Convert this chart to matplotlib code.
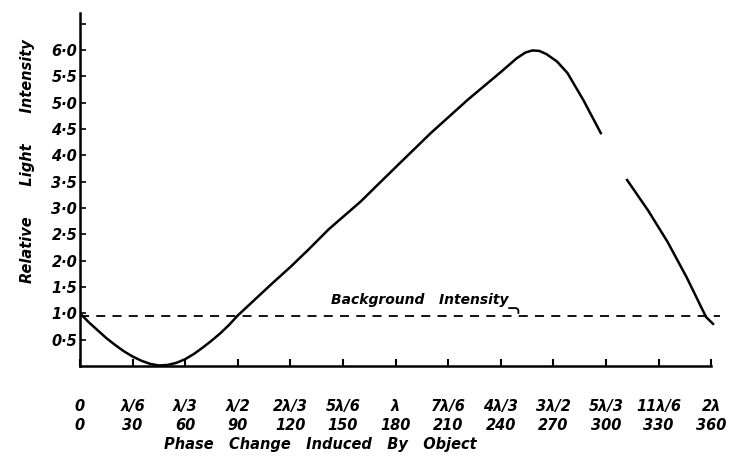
import numpy as np
from matplotlib import pyplot as plt

# phase (degrees) and relative light intensity
phase = [0, 5, 10, 15, 20, 25, 30, 35, 40, 45, 50, 55, 60, 65, 70, 75, 80,
         85, 90, 100, 110, 120, 130, 142, 160, 171, 183, 200, 221, 240, 249,
         254, 258, 262, 266, 272, 278, 287, 297,
         np.nan,
         312, 324, 335, 346, 357, 361]
intensity = [1.0, 0.83, 0.68, 0.53, 0.40, 0.28, 0.18, 0.10, 0.04, 0.01, 0.02,
             0.06, 0.13, 0.23, 0.35, 0.48, 0.62, 0.78, 0.96, 1.27, 1.58,
             1.88, 2.2, 2.6, 3.12, 3.48, 3.87, 4.42, 5.05, 5.58, 5.84, 5.95,
             5.99, 5.98, 5.92, 5.78, 5.56, 5.05, 4.42,
             np.nan,
             3.53, 2.95, 2.36, 1.68, 0.93, 0.80]
background = 0.95

xticks = [0, 30, 60, 90, 120, 150, 180, 210, 240, 270, 300, 330, 360]
lambda_labels = ["0", "λ/6", "λ/3", "λ/2", "2λ/3", "5λ/6", "λ", "7λ/6",
                 "4λ/3", "3λ/2", "5λ/3", "11λ/6", "2λ"]
yticks = [0.5, 1.0, 1.5, 2.0, 2.5, 3.0, 3.5, 4.0, 4.5, 5.0, 5.5, 6.0, 6.5]
ytick_labels = ["0·5", "1·0", "1·5", "2·0", "2·5", "3·0", "3·5", "4·0",
                "4·5", "5·0", "5·5", "6·0", ""]

plt.rcParams['font.family'] = 'DejaVu Sans'
font = dict(fontweight='bold', style='italic', fontsize=10.5)

fig = plt.figure(figsize=(7.34, 4.63), dpi=100)
ax = fig.add_axes([0.109, 0.2095, 0.872, 0.7624])

ax.plot(phase, intensity, color='black', lw=1.8)
ax.axhline(background, color='black', lw=1.3, ls=(0, (5, 4)))

ax.text(194, 1.25, "Background   Intensity", ha='center', va='center',
        fontweight='bold', style='italic', fontsize=10)
ax.annotate('', xy=(250, background), xytext=(243, 1.1),
            arrowprops=dict(arrowstyle='-', color='black', lw=1.3,
                            connectionstyle='angle,angleA=0,angleB=90,rad=3'))

ax.set_xlim(0, 365)
ax.set_ylim(0, 6.7)
ax.spines['top'].set_visible(False)
ax.spines['right'].set_visible(False)
ax.spines['bottom'].set_bounds(0, 360)
ax.spines['left'].set_linewidth(1.8)
ax.spines['bottom'].set_linewidth(1.8)

ax.set_xticks(xticks)
ax.set_xticklabels([f"{a}\n{b}" for a, b in zip(lambda_labels, xticks)],
                   linespacing=1.3, **font)
ax.set_yticks(yticks)
ax.set_yticklabels(ytick_labels, **font)
ax.tick_params(axis='x', direction='in', length=5, width=1.5, pad=24)
ax.tick_params(axis='y', direction='in', length=4, width=1.2, pad=2)

ax.set_xlabel("Phase   Change   Induced   By   Object", labelpad=3,
              x=0.375, **font)
ax.set_ylabel("Relative      Light      Intensity", labelpad=12, y=0.58, **font)

fig.savefig("out.png", dpi=100)
